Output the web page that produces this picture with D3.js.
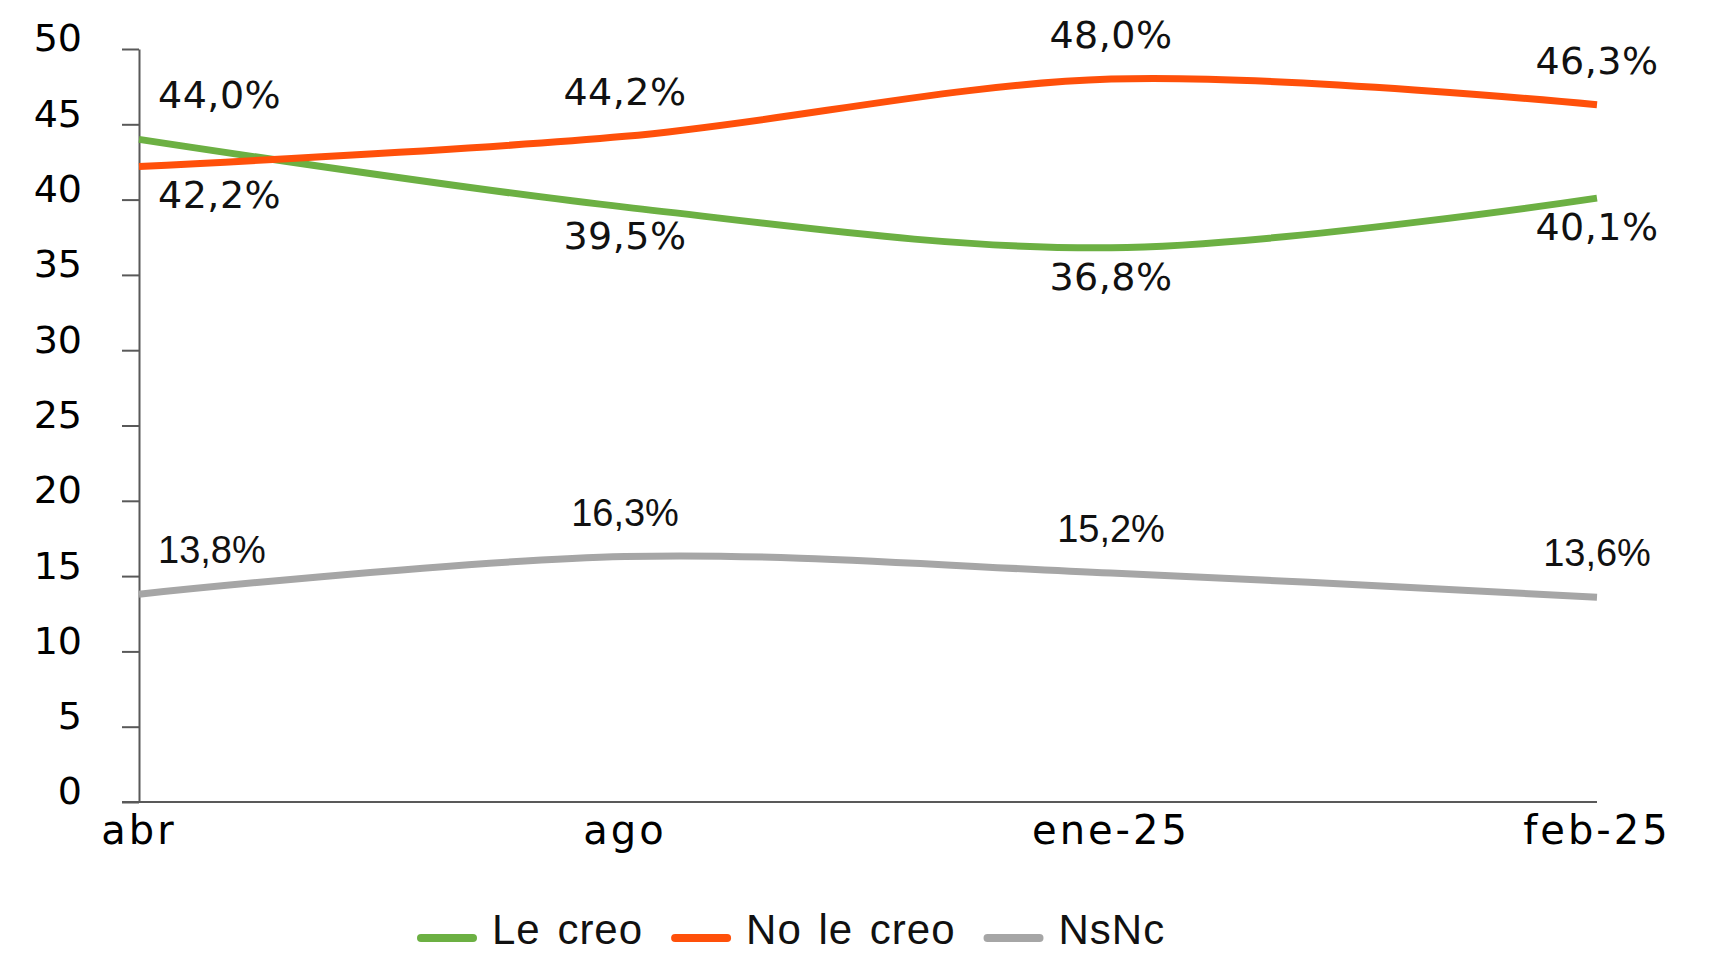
<!DOCTYPE html>
<html>
<head>
<meta charset="utf-8">
<script src="https://cdn.jsdelivr.net/npm/d3@7"></script>
<style>
  body { margin: 0; background: #fff; }
  .axis path, .axis line { stroke: #595959; stroke-width: 2; }
  .tick-label { font-family: "DejaVu Sans", sans-serif; font-size: 38px; fill: #000; }
  .x-label { font-family: "DejaVu Sans", sans-serif; font-size: 40px; letter-spacing: 3px; fill: #000; }
  .data-label { font-family: "DejaVu Sans", sans-serif; font-size: 38px; letter-spacing: 0.5px; fill: #111; }
  .data-label.gray { font-family: "Liberation Sans", Arial, sans-serif; letter-spacing: 0; }
  .legend-label { font-family: "Liberation Sans", Arial, sans-serif; font-size: 42px; letter-spacing: 1px; word-spacing: 4px; fill: #111; }
</style>
</head>
<body>
<div id="chart-container"></div>
<script>
// données
const categories = ["abr", "ago", "ene-25", "feb-25"];
const leCreo = [44.0, 39.5, 36.8, 40.1];
const noLeCreo = [42.2, 44.2, 48.0, 46.3];
const nsNc = [13.8, 16.3, 15.2, 13.6];
const yTicks = [0, 5, 10, 15, 20, 25, 30, 35, 40, 45, 50];

// above = label au-dessus du point
const series = [
  { name: "Le creo", values: leCreo, color: "#6CB043", labelPos: ["above", "below", "below", "below"] },
  { name: "No le creo", values: noLeCreo, color: "#FF500A", labelPos: ["below", "above", "above", "above"] },
  { name: "NsNc", values: nsNc, color: "#A6A6A6", labelPos: ["above", "above", "above", "above"], gray: true }
];

const W = 1711, H = 953;
const margin = { top: 49, right: 114, bottom: 151, left: 139 };
const width = W - margin.left - margin.right;
const height = H - margin.top - margin.bottom;

const svg = d3.select("#chart-container")
  .append("svg")
  .attr("width", W)
  .attr("height", H);

const x = d3.scalePoint().domain(categories).range([0, width]);
const y = d3.scaleLinear().domain([0, 50]).range([height, 0]);

const g = svg.append("g").attr("transform", `translate(${margin.left},${margin.top})`);

// axe Y
const yAxis = g.append("g")
  .attr("class", "axis")
  .call(d3.axisLeft(y).tickValues(yTicks).tickSize(17).tickPadding(40).tickSizeOuter(0));
yAxis.selectAll("text").attr("class", "tick-label").attr("dy", "0.05em");

// axe X (la ligne commence au bout des graduations Y)
g.append("line")
  .attr("x1", -17).attr("x2", width)
  .attr("y1", height).attr("y2", height)
  .attr("stroke", "#595959").attr("stroke-width", 2);

g.selectAll(".x-label")
  .data(categories)
  .enter()
  .append("text")
  .attr("class", "x-label")
  .attr("x", d => x(d))
  .attr("y", height + 42)
  .attr("text-anchor", "middle")
  .text(d => d);

// lignes lissées
const line = d3.line()
  .x((d, i) => x(categories[i]))
  .y(d => y(d))
  .curve(d3.curveCatmullRom.alpha(0));

// NsNc en dessous, puis Le creo, puis No le creo
[series[2], series[0], series[1]].forEach(s => {
  g.append("path")
    .datum(s.values)
    .attr("fill", "none")
    .attr("stroke", s.color)
    .attr("stroke-width", 7)
    .attr("d", line);
});

const fmt = v => v.toFixed(1).replace(".", ",") + "%";

series.forEach(s => {
  g.selectAll(null)
    .data(s.values)
    .enter()
    .append("text")
    .attr("class", s.gray ? "data-label gray" : "data-label")
    .attr("x", (d, i) => x(categories[i]) + (i === 0 ? 19 : 0))
    .attr("y", (d, i) => y(d) + (s.labelPos[i] === "above" ? -31 : 42))
    .attr("text-anchor", (d, i) => (i === 0 ? "start" : "middle"))
    .text(d => fmt(d));
});

// légende
const legend = svg.append("g").attr("transform", "translate(417,938)");
let lx = 0;
series.forEach(s => {
  const item = legend.append("g").attr("transform", `translate(${lx},0)`);
  item.append("line")
    .attr("x1", 4).attr("x2", 56)
    .attr("y1", 0).attr("y2", 0)
    .attr("stroke", s.color)
    .attr("stroke-width", 8)
    .attr("stroke-linecap", "round");
  const t = item.append("text")
    .attr("class", "legend-label")
    .attr("x", 75)
    .attr("y", 6)
    .text(s.name);
  lx += 75 + t.node().getComputedTextLength() + 28;
});
</script>
</body>
</html>
